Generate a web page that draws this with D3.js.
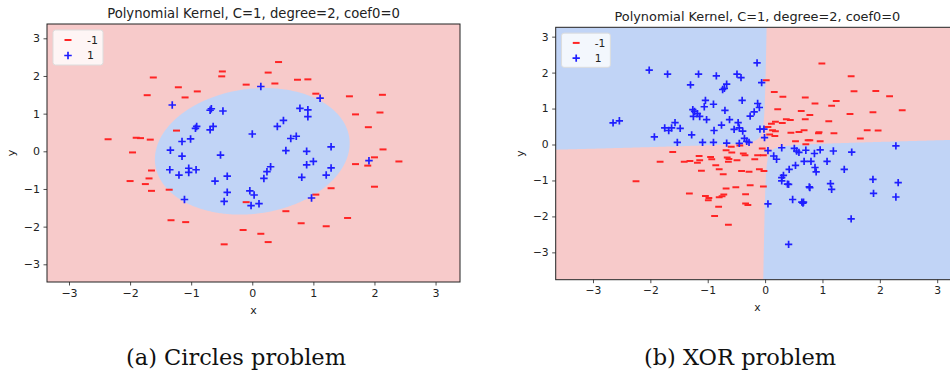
<!DOCTYPE html>
<html>
<head>
<meta charset="utf-8" />
<script src="https://d3js.org/d3.v7.min.js"></script>
<style>
  body { margin: 0; background: #fff; }
  text { font-family: "DejaVu Sans", sans-serif; fill: #222; }
  .caption { font-family: "DejaVu Serif", serif; fill: #111; }
</style>
</head>
<body>
<svg id="fig" width="950" height="374"></svg>
<script>
// ---- data ----
const circleNeg = [[-1.62,1.96],[-0.49,2.12],[-0.50,1.99],[-0.10,1.77],[-1.21,1.70],[-0.90,1.59],[-1.72,1.49],[-1.10,1.43],[-1.24,0.55],[-2.36,0.32],[-1.90,0.36],[-1.83,0.35],[-1.67,0.31],[-1.96,-0.03],[-1.65,-0.51],[-1.69,-0.72],[-2.00,-0.79],[-1.75,-0.87],[-1.65,-1.05],[-1.36,-1.02],[-0.10,-1.35],[-1.33,-1.83],[-1.09,-1.88],[-0.15,-2.09],[-0.46,-2.47],
  [0.43,2.37],[0.26,2.09],[0.37,1.80],[0.74,1.90],[0.91,1.91],[1.04,1.53],[1.59,1.46],[2.13,1.50],[1.69,0.98],[2.09,1.03],[1.90,0.64],[2.14,0.05],[2.00,-0.16],[2.40,-0.27],[1.69,-0.34],[1.89,-0.38],[2.00,-0.94],[1.29,-0.98],[1.04,-1.15],[0.55,-1.59],[0.80,-1.91],[1.21,-1.99],[1.56,-1.77],[0.14,-2.19],[0.26,-2.41]];
const circlePos = [[-1.31,1.23],[-0.69,1.09],[-0.67,1.13],[-0.48,1.07],[-0.93,0.61],[-0.91,0.66],[-0.69,0.57],[-0.64,0.66],[0.0,0.46],[-1.15,0.26],[-1.01,0.33],[-1.34,0.03],[-1.15,-0.13],[-0.52,-0.10],[-1.35,-0.49],[-1.20,-0.63],[-1.04,-0.45],[-1.04,-0.56],[-0.92,-0.49],[-0.61,-0.79],[-0.41,-0.66],[-0.41,-1.09],[-0.46,-1.33],[-1.11,-1.28],[-0.04,-1.05],[0.03,-1.16],[-0.02,-1.44],
  [0.14,1.72],[1.11,1.41],[0.78,1.14],[0.91,1.10],[0.91,0.92],[0.51,0.82],[0.41,0.66],[0.63,0.34],[0.72,0.40],[0.55,0.02],[0.89,0.0],[1.29,0.12],[1.0,-0.27],[0.89,-0.36],[1.29,-0.44],[1.21,-0.63],[1.91,-0.25],[0.30,-0.41],[0.24,-0.54],[0.19,-0.72],[0.81,-0.69],[0.11,-1.39],[0.97,-1.24]];

const xorNeg = [[0.99,2.25],[1.50,1.90],[0.02,1.79],[0.16,1.46],[0.31,1.33],[0.70,1.31],[1.55,1.48],[1.93,1.49],[2.17,1.34],[1.24,1.21],[0.87,1.14],[1.16,1.08],[0.22,0.98],[0.63,0.93],[2.39,0.95],[0.78,0.82],[1.48,0.85],[1.88,0.90],[0.37,0.70],[0.44,0.68],[0.70,0.70],[0.18,0.63],[0.30,0.60],[0.11,0.58],[1.11,0.65],[0.05,0.49],[0.13,0.40],[0.18,0.37],[0.68,0.40],[0.59,0.35],[0.45,0.33],[0.94,0.34],[0.93,0.31],[1.20,0.31],[1.78,0.40],[1.97,0.39],[0.08,0.28],[0.17,0.24],[0.75,0.12],[0.78,0.12],[0.53,0.09],[0.96,0.09],[1.66,0.17],[0.71,0.01],
  [-1.61,-0.21],[-1.83,-0.48],[-2.25,-1.02],[-1.15,-0.32],[-1.14,-0.44],[-1.41,-0.48],[-1.31,-0.46],[-1.18,-0.51],[-0.95,-0.35],[-0.93,-0.41],[-0.68,-0.16],[-0.86,-0.58],[-0.80,-0.69],[-1.11,-0.73],[-0.66,-0.36],[-0.63,-0.40],[-0.64,-0.48],[-0.59,-0.06],[-0.58,-0.22],[-0.49,-0.44],[-0.73,-0.83],[-0.41,-0.74],[-0.28,-0.76],[-0.38,-0.25],[-0.35,-0.30],[-0.18,-0.41],[-0.10,-0.69],[-0.02,-0.74],[-0.13,-0.30],[-0.03,-0.30],[-0.05,-0.11],[-0.44,-0.03],[-1.32,-1.36],[-1.04,-1.43],[-0.98,-1.49],[-0.99,-1.55],[-0.80,-1.47],[-0.72,-1.39],[-0.75,-1.44],[-0.68,-1.22],[-0.51,-1.19],[-0.34,-1.38],[-0.26,-1.13],[-0.03,-1.17],[-0.34,-1.64],[-0.30,-1.68],[-0.81,-1.73],[-0.88,-1.99],[-0.64,-2.23]];
const xorPos = [[-2.02,2.07],[-1.70,1.96],[-1.16,1.96],[-0.85,1.91],[-0.49,1.96],[-0.42,1.86],[-0.14,2.27],[-0.06,1.72],[-1.30,1.66],[-0.67,1.68],[-0.71,1.56],[-0.74,1.53],[-1.04,1.23],[-1.06,1.05],[-0.90,1.12],[-0.40,1.23],[-1.26,0.97],[-1.23,0.92],[-1.18,0.86],[-1.25,0.78],[-1.14,0.78],[-1.02,0.69],[-0.70,0.95],[-0.13,1.14],[-0.10,1.03],[-0.19,0.91],[-0.26,0.79],[-0.62,0.69],[-2.65,0.60],[-2.54,0.66],[-1.75,0.46],[-1.68,0.39],[-1.57,0.61],[-1.63,0.46],[-1.48,0.45],[-0.76,0.54],[-0.89,0.39],[-0.47,0.61],[-0.54,0.42],[-0.45,0.46],[-0.39,0.37],[-1.93,0.21],[-1.28,0.27],[-1.53,0.06],[-1.09,0.06],[-0.90,0.06],[-0.67,0.04],[-0.36,0.17],[-0.32,0.09],[-0.28,0.06],[-0.45,0.03],[-0.09,0.43],[-0.02,0.43],[-0.01,0.19],
  [0.05,-0.17],[0.29,-0.09],[0.15,-0.32],[0.20,-0.41],[0.51,-0.11],[0.55,-0.18],[0.59,-0.22],[0.71,-0.16],[0.86,-0.25],[0.96,-0.15],[1.19,-0.18],[1.51,-0.21],[2.28,-0.04],[0.68,-0.47],[0.80,-0.47],[1.08,-0.47],[0.53,-0.58],[0.42,-0.69],[0.87,-0.64],[0.89,-0.76],[1.38,-0.69],[0.32,-0.86],[0.29,-0.92],[0.29,-1.01],[0.39,-1.10],[0.41,-1.11],[0.77,-1.18],[0.78,-1.20],[1.14,-1.09],[1.16,-1.25],[1.88,-0.97],[2.32,-1.06],[1.89,-1.36],[2.28,-1.46],[0.48,-1.53],[0.64,-1.60],[0.66,-1.63],[0.67,-1.60],[0.05,-1.65],[1.50,-2.07],[0.41,-2.78]];

// decision function a*x^2 + b*x*y + c*y^2 + d, class 1 where > 0
const circleCoef = [-0.40, 0.096, -0.36, 1.0];
const xorCoef = [0.041, -1.0, 0.01, -0.02];

const ticks = [-3, -2, -1, 0, 1, 2, 3];
const labels = ["-1", "1"];
const titleText = "Polynomial Kernel, C=1, degree=2, coef0=0";

const panels = [
  { box: [47, 460, 24, 282], xd: [-3.36, 3.40], yd: [-3.47, 3.38], k: 1,
    neg: circleNeg, pos: circlePos, coef: circleCoef, caption: "(a) Circles problem", cx: 236 },
  { box: [555.7, 959, 27.3, 279.7], xd: [-3.65, 3.38], yd: [-3.76, 3.26], k: 0.976,
    neg: xorNeg, pos: xorPos, coef: xorCoef, caption: "(b) XOR problem", cx: 740 }
];

const redBg = "#f7caca", blueBg = "#c1d4f6";
const redPt = "#ff2424", bluePt = "#1f1fff";

const svg = d3.select("#fig");

function hline(g, px, py, w) {
  g.append("line").attr("x1", px - w / 2).attr("x2", px + w / 2)
    .attr("y1", py).attr("y2", py)
    .attr("stroke", redPt).attr("stroke-width", 2);
}
function plus(g, px, py, s) {
  g.append("path").attr("d", `M${px - s / 2},${py}H${px + s / 2}M${px},${py - s / 2}V${py + s / 2}`)
    .attr("stroke", bluePt).attr("stroke-width", 1.7).attr("fill", "none");
}

panels.forEach((p, idx) => {
  const [x0, x1, y0, y1] = p.box;
  const k = p.k;
  const x = d3.scaleLinear().domain(p.xd).range([x0, x1]);
  const y = d3.scaleLinear().domain(p.yd).range([y1, y0]);

  const clipId = "clip" + idx;
  svg.append("clipPath").attr("id", clipId)
    .append("rect").attr("x", x0).attr("y", y0).attr("width", x1 - x0).attr("height", y1 - y0);
  const g = svg.append("g").attr("clip-path", `url(#${clipId})`);

  g.append("rect").attr("x", x0).attr("y", y0).attr("width", x1 - x0).attr("height", y1 - y0)
    .attr("fill", redBg);

  // decision surface on a grid, positive region filled blue
  const nx = 300, ny = 300;
  const [a, b, c, d] = p.coef;
  const vals = new Array(nx * ny);
  for (let j = 0; j < ny; j++) {
    const yy = p.yd[0] + (j + 0.5) / ny * (p.yd[1] - p.yd[0]);
    for (let i = 0; i < nx; i++) {
      const xx = p.xd[0] + (i + 0.5) / nx * (p.xd[1] - p.xd[0]);
      vals[j * nx + i] = a * xx * xx + b * xx * yy + c * yy * yy + d;
    }
  }
  const cont = d3.contours().size([nx, ny]).thresholds([0])(vals);
  const proj = d3.geoTransform({
    point: function (gx, gy) {
      this.stream.point(
        x(p.xd[0] + gx / nx * (p.xd[1] - p.xd[0])),
        y(p.yd[0] + gy / ny * (p.yd[1] - p.yd[0])));
    }
  });
  g.append("path").datum(cont[0]).attr("d", d3.geoPath(proj)).attr("fill", blueBg);

  p.neg.forEach(v => hline(g, x(v[0]), y(v[1]), 7 * k));
  p.pos.forEach(v => plus(g, x(v[0]), y(v[1]), 7.5 * k));

  // legend
  const lg = svg.append("g");
  lg.append("rect").attr("x", x0 + 6 * k).attr("y", y0 + 6 * k)
    .attr("width", 50 * k).attr("height", 35 * k).attr("rx", 2.5)
    .attr("fill", "#fff").attr("fill-opacity", 0.8)
    .attr("stroke", "#ddd").attr("stroke-width", 1);
  hline(lg, x0 + 21 * k, y0 + 16 * k, 7 * k);
  plus(lg, x0 + 21 * k, y0 + 31.5 * k, 7.5 * k);
  labels.forEach((t, i) => {
    lg.append("text").attr("x", x0 + 40 * k).attr("y", y0 + (16 + 15.5 * i) * k)
      .attr("dy", "0.35em").attr("font-size", 11 * k).text(t);
  });

  // axes
  const fmt = d => d < 0 ? "\u2212" + Math.abs(d) : d;
  const xAxis = d3.axisBottom(x).tickValues(ticks).tickSize(3.5).tickPadding(3.5).tickFormat(fmt);
  const yAxis = d3.axisLeft(y).tickValues(ticks).tickSize(3.5).tickPadding(3.5).tickFormat(fmt);
  const gx = svg.append("g").attr("transform", `translate(0,${y1})`).call(xAxis);
  const gy = svg.append("g").attr("transform", `translate(${x0},0)`).call(yAxis);
  [gx, gy].forEach(ax => {
    ax.select(".domain").remove();
    ax.selectAll(".tick line").attr("stroke", "#222").attr("stroke-width", 0.8);
    ax.selectAll(".tick text").attr("font-size", 11 * k).attr("font-family", "DejaVu Sans").attr("fill", "#222");
  });

  svg.append("rect").attr("x", x0).attr("y", y0).attr("width", x1 - x0).attr("height", y1 - y0)
    .attr("fill", "none").attr("stroke", "#222").attr("stroke-width", 1);

  svg.append("text").attr("x", (x0 + x1) / 2).attr("y", y0 - 6)
    .attr("text-anchor", "middle").attr("font-size", 13.2 * k).text(titleText);
  svg.append("text").attr("x", (x0 + x1) / 2).attr("y", y1 + 32 * k)
    .attr("text-anchor", "middle").attr("font-size", 11 * k).text("x");
  svg.append("text").attr("transform", `translate(${x0 - 32 * k},${(y0 + y1) / 2}) rotate(-90)`)
    .attr("text-anchor", "middle").attr("font-size", 11 * k).text("y");

  svg.append("text").attr("class", "caption").attr("x", p.cx).attr("y", 365)
    .attr("text-anchor", "middle").attr("font-size", 22.5).text(p.caption);
});
</script>
</body>
</html>
